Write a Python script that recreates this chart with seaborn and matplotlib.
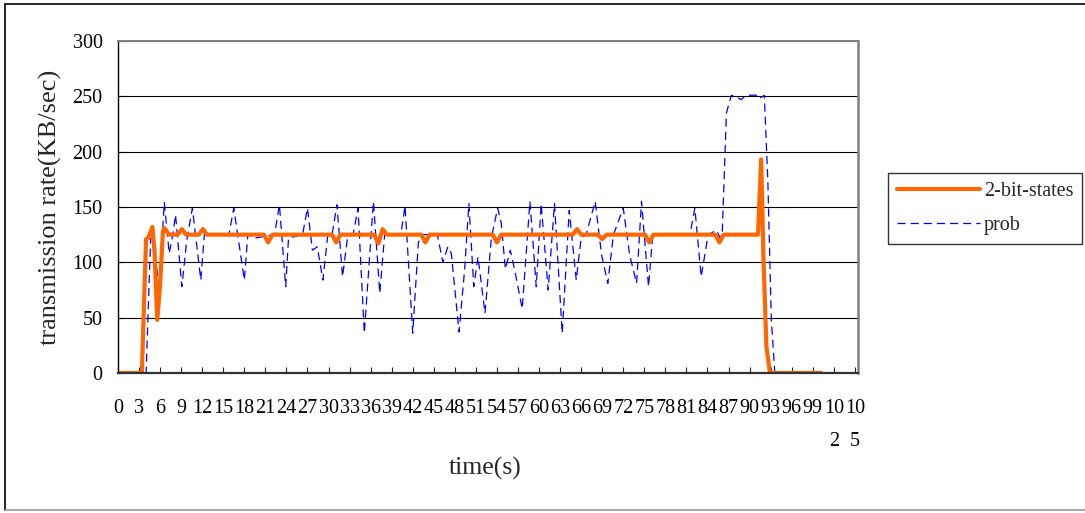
import matplotlib
matplotlib.use("Agg")
import matplotlib.pyplot as plt
from matplotlib.lines import Line2D
import seaborn as sns
import pandas as pd

# ---- data ----
t_bit = [0, 3.4, 4.0, 4.3, 4.9, 5.2, 5.6, 6.0, 6.4, 6.6, 7.3, 8.5, 9.1, 9.7, 11.5, 12.1, 12.7,
         20.8, 21.4, 22.0, 30.5, 31.1, 31.7, 36.5, 37.1, 37.7, 38.3, 43.2, 43.8, 44.4,
         53.4, 54.0, 54.6, 64.8, 65.4, 66.0, 68.4, 69.0, 69.6, 75.1, 75.7, 76.3,
         85.1, 85.7, 86.3, 91.2, 91.65, 92.0, 92.4, 92.9, 100.2]
v_bit = [0, 0, 121, 122, 132, 110, 48, 80, 128, 131, 125, 125, 130, 125, 125, 130, 125,
         125, 118, 125, 125, 118, 125, 125, 117, 130, 125, 125, 118, 125,
         125, 118, 125, 125, 130, 125, 125, 121, 125, 125, 118, 125,
         125, 118, 125, 125, 193, 99, 24, 0, 0]

t_prob = [0, 4.0, 4.65, 5.0, 5.85, 6.6, 7.3, 7.8, 8.2, 9.1, 9.8, 10.6, 11.8, 12.3, 15.8, 16.5,
          18.0, 18.5, 19.6, 22.3, 23.0, 23.9, 24.3, 26.3, 27.0, 27.7, 28.4, 29.2, 29.9,
          30.5, 31.2, 32.0, 32.7, 33.5, 34.2, 35.1, 35.8, 36.4, 37.3, 38.0, 40.3, 40.9,
          42.0, 42.8, 43.5, 45.5, 46.3, 47.0, 47.5, 48.6, 49.4, 50.0, 50.7, 51.3, 52.3,
          53.2, 54.1, 54.6, 55.2, 55.9, 56.5, 57.6, 58.7, 59.6, 60.3, 61.3, 62.2, 63.3,
          64.3, 65.3, 66.0, 66.7, 68.0, 68.9, 69.8, 70.6, 72.0, 72.9, 73.9, 74.6, 75.6,
          76.2, 81.5, 82.2, 83.1, 84.1, 85.3, 85.8, 86.1, 86.7, 87.4, 88.2, 88.8, 89.5,
          91.0, 91.4, 92.1, 92.6, 93.1, 93.6, 100.2]
v_prob = [0, 0, 121, 123, 77, 154, 108, 125, 143, 78, 120, 149, 84, 125, 125, 149,
          84, 125, 122, 125, 152, 78, 122, 125, 149, 111, 114, 84, 125,
          125, 152, 87, 122, 125, 149, 36, 100, 155, 72, 125, 125, 151,
          36, 118, 125, 125, 100, 114, 108, 37, 94, 153, 78, 105, 54,
          122, 149, 136, 94, 111, 94, 58, 155, 78, 153, 75, 153, 36,
          147, 84, 122, 125, 155, 107, 81, 125, 149, 107, 81, 155, 78,
          125, 125, 149, 87, 125, 129, 122, 125, 235, 251, 249, 247, 251,
          251, 248, 251, 174, 48, 0, 0]

series_names = ["2-bit-states", "prob"]
tick_values = list(range(0, 106, 3))
tick_labels = [str(v) for v in tick_values[:-2]] + ["10\n2", "10\n5"]
y_ticks = [0, 50, 100, 150, 200, 250, 300]

# ---- styling ----
sns.set_style("white")
plt.rcParams["font.family"] = ["Liberation Serif", "DejaVu Serif"]

W, H = 1085, 513
fig = plt.figure(figsize=(W / 100, H / 100), dpi=100)
L, R, T, B = 118, 858, 41, 373
ax = fig.add_axes([L / W, 1 - B / H, (R - L) / W, (B - T) / H])

df_bit = pd.DataFrame({"t": t_bit, "v": v_bit})
df_prob = pd.DataFrame({"t": t_prob, "v": v_prob})

sns.lineplot(data=df_bit, x="t", y="v", ax=ax, color="#FF6600", linewidth=3.0,
             label=series_names[0], sort=False, zorder=3)
sns.lineplot(data=df_prob, x="t", y="v", ax=ax, color="#0000FF", linewidth=0.9,
             linestyle=(0, (6.5, 4.0)), label=series_names[1], sort=False, zorder=2)

ax.set_xlim(0, 105.45)
ax.set_ylim(0, 300)
ax.set_yticks(y_ticks)
ax.set_yticklabels([str(v) for v in y_ticks])
ax.set_xticks(tick_values)
ax.set_xticklabels(tick_labels, multialignment="center", linespacing=1.95)
ax.set_xlabel("")
ax.set_ylabel("")

for yv in y_ticks[1:]:
    ax.axhline(yv, color="black", linewidth=0.8, zorder=1)

ax.tick_params(axis="both", direction="in", length=4.5, width=0.8, color="#222222",
               labelsize=14.5, labelcolor="black")
ax.tick_params(axis="x", pad=19)
ax.tick_params(axis="y", pad=11)
ax.tick_params(left=True, bottom=True)

ax.spines["left"].set_color("black")
ax.spines["left"].set_linewidth(1.0)
ax.spines["bottom"].set_color("#333333")
ax.spines["bottom"].set_linewidth(1.6)
ax.spines["right"].set_color("#808080")
ax.spines["right"].set_linewidth(1.8)
ax.spines["top"].set_color("#808080")
ax.spines["top"].set_linewidth(1.4)
for s in ax.spines.values():
    s.set_visible(True)
    s.set_zorder(4)

ax.get_legend().remove()
handles, labels = ax.get_legend_handles_labels()
leg = fig.legend(handles, labels, loc="upper left",
                 bbox_to_anchor=(888 / W, 1 - 173 / H), borderaxespad=0,
                 frameon=True, fancybox=False, shadow=False, fontsize=14.5,
                 handlelength=4.1, handletextpad=0.2, labelspacing=0.75,
                 borderpad=0.45)
leg.get_frame().set_edgecolor("black")
leg.get_frame().set_linewidth(1.0)
leg.get_frame().set_facecolor("white")

fig.text(50 / W, 1 - 207 / H, "transmission rate(KB/sec)", rotation=90,
         ha="center", va="center", fontsize=19)
fig.text(485 / W, 1 - 468 / H, "time(s)", ha="center", va="center", fontsize=18.5)

# chart-area border
fig.add_artist(Line2D([5 / W, 1.01], [1 - 4 / H, 1 - 4 / H], transform=fig.transFigure,
                      color="black", linewidth=1.2))
fig.add_artist(Line2D([5 / W, 5 / W], [1 - 4 / H, 1 - 510 / H], transform=fig.transFigure,
                      color="black", linewidth=1.2))
fig.add_artist(Line2D([5 / W, 1.01], [1 - 510 / H, 1 - 510 / H], transform=fig.transFigure,
                      color="#9a9a9a", linewidth=1.2))

fig.savefig("out.png", dpi=100)
